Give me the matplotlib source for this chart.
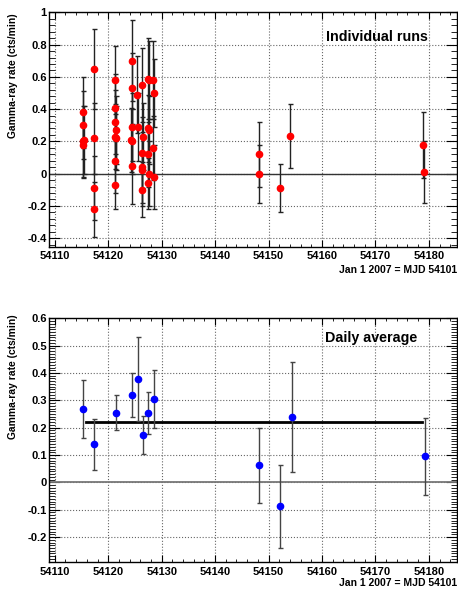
import matplotlib
matplotlib.use("Agg")
import matplotlib.pyplot as plt
from matplotlib.ticker import MultipleLocator, FuncFormatter

plt.rcParams['font.family'] = ['Liberation Sans', 'DejaVu Sans']
plt.rcParams['font.weight'] = 'bold'

# individual runs (MJD, rate, error)
run_mjd = [54115.2, 54115.3, 54115.4, 54115.3, 54115.3,
           54117.4, 54117.4, 54117.3, 54117.4,
           54121.2, 54121.3, 54121.2, 54121.4, 54121.3, 54121.4, 54121.2, 54121.3,
           54124.4, 54124.4, 54124.4, 54124.3, 54124.5, 54124.4,
           54125.4, 54125.5,
           54126.4, 54126.5, 54126.4, 54126.3, 54126.4, 54126.4,
           54127.4, 54127.6, 54127.4, 54127.6, 54127.5, 54127.6, 54127.4,
           54128.4, 54128.5, 54128.4, 54128.5,
           54148.2, 54148.2, 54152.1, 54154.1, 54179.0, 54179.1]
run_rate = [0.38, 0.30, 0.21, 0.20, 0.18,
            0.65, 0.22, -0.09, -0.22,
            0.58, 0.41, 0.32, 0.27, 0.23, 0.22, 0.08, -0.07,
            0.70, 0.53, 0.29, 0.21, 0.20, 0.05,
            0.49, 0.29,
            0.55, 0.23, 0.13, 0.04, 0.02, -0.10,
            0.59, 0.58, 0.28, 0.27, 0.12, 0.00, -0.06,
            0.58, 0.50, 0.16, -0.02,
            0.12, 0.00, -0.09, 0.235, 0.175, 0.01]
run_err = [0.22, 0.21, 0.21, 0.22, 0.21,
           0.25, 0.22, 0.20, 0.17,
           0.21, 0.21, 0.20, 0.21, 0.20, 0.20, 0.20, 0.15,
           0.25, 0.22, 0.21, 0.20, 0.20, 0.24,
           0.24, 0.21,
           0.23, 0.21, 0.22, 0.22, 0.22, 0.17,
           0.25, 0.24, 0.21, 0.21, 0.20, 0.20, 0.16,
           0.24, 0.21, 0.20, 0.20,
           0.20, 0.18, 0.15, 0.20, 0.205, 0.19]

# daily averages
day_mjd = [54115.3, 54117.3, 54121.5, 54124.5, 54125.5, 54126.5,
           54127.4, 54128.5, 54148.3, 54152.2, 54154.3, 54179.2]
day_rate = [0.27, 0.14, 0.255, 0.32, 0.378, 0.173,
            0.253, 0.304, 0.062, -0.087, 0.239, 0.095]
day_err = [0.106, 0.093, 0.065, 0.08, 0.155, 0.068,
           0.077, 0.106, 0.138, 0.152, 0.20, 0.142]

fit_level = 0.22
fit_range = [54115.8, 54178.8]

fig = plt.figure(figsize=(4.58, 5.90), dpi=100)
ax1 = fig.add_axes([0.108, 0.582, 0.889, 0.397])
ax2 = fig.add_axes([0.108, 0.0475, 0.889, 0.413])


def style_axis(ax, ylim, ymajor, yminor, date_y, label_y):
    ax.set_xlim(54109, 54185.2)
    ax.set_ylim(*ylim)
    ax.xaxis.set_major_locator(MultipleLocator(10))
    ax.xaxis.set_minor_locator(MultipleLocator(2))
    ax.yaxis.set_major_locator(MultipleLocator(ymajor))
    ax.yaxis.set_minor_locator(MultipleLocator(yminor))
    ax.yaxis.set_major_formatter(FuncFormatter(lambda v, p: "%g" % round(v, 3)))
    ax.xaxis.set_major_formatter(FuncFormatter(lambda v, p: "%d" % round(v)))
    ax.grid(True, which='major', linestyle=':', color='#666666', linewidth=0.8)
    ax.set_axisbelow(True)
    ax.tick_params(which='both', direction='in', top=True, right=True, labelsize=8)
    ax.tick_params(axis='y', which='major', length=8, pad=2)
    ax.tick_params(axis='y', which='minor', length=4)
    ax.tick_params(axis='x', which='major', length=5, pad=3.5)
    ax.tick_params(axis='x', which='minor', length=2.5)
    for s in ax.spines.values():
        s.set_linewidth(1.0)
    ax.set_ylabel("Gamma-ray rate (cts/min)", fontsize=7.4, fontweight='bold')
    ax.yaxis.set_label_coords(-0.077, label_y)
    ax.text(1.0, date_y, "Jan 1 2007 = MJD 54101", transform=ax.transAxes,
            ha='right', va='center', fontsize=7.5, fontweight='bold')


style_axis(ax1, (-0.4525, 1.0), 0.2, 0.04, -0.10, 0.73)
ax1.axhline(0, color='#333333', linewidth=1.0)
ax1.errorbar(run_mjd, run_rate, yerr=run_err, fmt='o', color='red', markersize=4.5,
             ecolor='#222222', elinewidth=1.0, capsize=1.8, capthick=1.0, zorder=3)
ax1.text(0.93, 0.893, "Individual runs", transform=ax1.transAxes, ha='right', va='center',
         fontsize=10.3, fontweight='bold')

style_axis(ax2, (-0.291, 0.6), 0.1, 0.01, -0.087, 0.76)
ax2.axhline(0, color='#777777', linewidth=1.3)
ax2.plot(fit_range, [fit_level, fit_level], color='black', linewidth=2.0, zorder=2)
ax2.errorbar(day_mjd, day_rate, yerr=day_err, fmt='o', color='blue', markersize=4.5,
             ecolor='#444444', elinewidth=1.0, capsize=1.8, capthick=1.0, zorder=3)
ax2.text(0.903, 0.918, "Daily average", transform=ax2.transAxes, ha='right', va='center',
         fontsize=10.3, fontweight='bold')

fig.savefig("out.png", dpi=100)
